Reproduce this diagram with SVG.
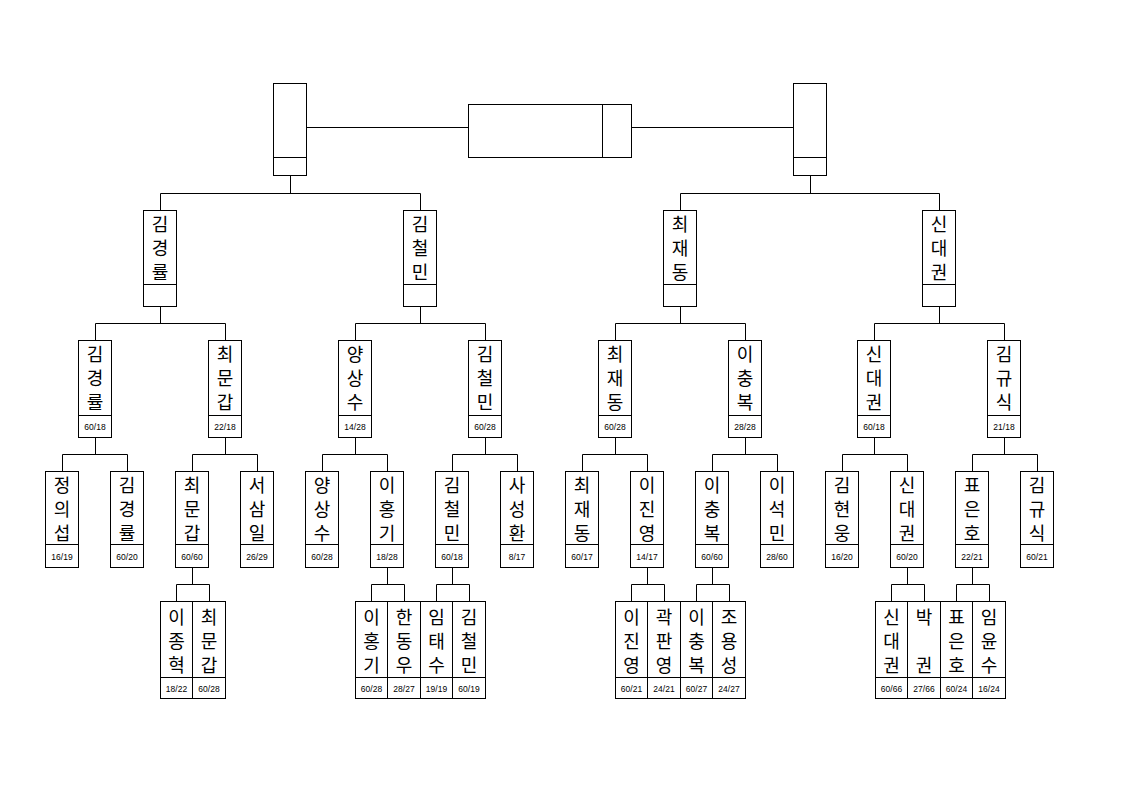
<svg xmlns="http://www.w3.org/2000/svg" width="1123" height="794" viewBox="0 0 1123 794">
<style>
.b{fill:#fff;stroke:#000;stroke-width:1}
.c{fill:none;stroke:#000;stroke-width:1}
.nm{font-family:"Noto Sans CJK KR","Noto Sans CJK JP",sans-serif;font-size:18px;text-anchor:middle;dominant-baseline:central;fill:#000}
.sc{font-family:"Liberation Sans",Arial,sans-serif;font-size:8.5px;text-anchor:middle;dominant-baseline:central;fill:#000}
</style>
<rect width="1123" height="794" fill="#fff"/>
<g id="connectors" class="c">
<path d="M306.5 127.5H468.5M631.5 127.5H793.5"/>
<path d="M290.5 175.5V193.5M160.5 193.5H420.5M160.5 193.5V210.5M420.5 193.5V210.5"/>
<path d="M810.5 175.5V193.5M680.5 193.5H939.5M680.5 193.5V210.5M939.5 193.5V210.5"/>
<path d="M160.5 306.5V323.5M95.5 323.5H225.5M95.5 323.5V340.5M225.5 323.5V340.5"/>
<path d="M420.5 306.5V323.5M355.5 323.5H485.5M355.5 323.5V340.5M485.5 323.5V340.5"/>
<path d="M680.5 306.5V323.5M615.5 323.5H745.5M615.5 323.5V340.5M745.5 323.5V340.5"/>
<path d="M939.5 306.5V323.5M874.5 323.5H1004.5M874.5 323.5V340.5M1004.5 323.5V340.5"/>
<path d="M95.5 437.5V454.5M62.5 454.5H127.5M62.5 454.5V471.5M127.5 454.5V471.5"/>
<path d="M225.5 437.5V454.5M192.5 454.5H257.5M192.5 454.5V471.5M257.5 454.5V471.5"/>
<path d="M355.5 437.5V454.5M322.5 454.5H387.5M322.5 454.5V471.5M387.5 454.5V471.5"/>
<path d="M485.5 437.5V454.5M452.5 454.5H517.5M452.5 454.5V471.5M517.5 454.5V471.5"/>
<path d="M615.5 437.5V454.5M582.5 454.5H647.5M582.5 454.5V471.5M647.5 454.5V471.5"/>
<path d="M745.5 437.5V454.5M712.5 454.5H777.5M712.5 454.5V471.5M777.5 454.5V471.5"/>
<path d="M874.5 437.5V454.5M842.5 454.5H907.5M842.5 454.5V471.5M907.5 454.5V471.5"/>
<path d="M1004.5 437.5V454.5M972.5 454.5H1037.5M972.5 454.5V471.5M1037.5 454.5V471.5"/>
<path d="M192.5 567.5V584.5M176.5 584.5H209.5M176.5 584.5V601.5M209.5 584.5V601.5"/>
<path d="M387.5 567.5V584.5M371.5 584.5H404.5M371.5 584.5V601.5M404.5 584.5V601.5"/>
<path d="M452.5 567.5V584.5M436.5 584.5H469.5M436.5 584.5V601.5M469.5 584.5V601.5"/>
<path d="M647.5 567.5V584.5M631.5 584.5H664.5M631.5 584.5V601.5M664.5 584.5V601.5"/>
<path d="M712.5 567.5V584.5M696.5 584.5H729.5M696.5 584.5V601.5M729.5 584.5V601.5"/>
<path d="M907.5 567.5V584.5M891.5 584.5H924.5M891.5 584.5V601.5M924.5 584.5V601.5"/>
<path d="M972.5 567.5V584.5M956.5 584.5H989.5M956.5 584.5V601.5M989.5 584.5V601.5"/>
</g>

<g id="top-left"><rect class="b" x="273.5" y="83.5" width="33" height="92"/><line class="c" x1="273.5" y1="157.5" x2="306.5" y2="157.5"/></g>
<g id="final"><rect class="b" x="468.5" y="104.5" width="163" height="53"/><line class="c" x1="602.5" y1="104.5" x2="602.5" y2="157.5"/></g>
<g id="top-right"><rect class="b" x="793.5" y="83.5" width="33" height="92"/><line class="c" x1="793.5" y1="157.5" x2="826.5" y2="157.5"/></g>

<g id="l1-1" transform="translate(143,210)"><rect class="b" x="0.5" y="0.5" width="33" height="96"/><line class="c" x1="0.5" y1="74.5" x2="33.5" y2="74.5"/><text class="nm"><tspan x="17" y="13">김</tspan><tspan x="17" y="37">경</tspan><tspan x="17" y="61">률</tspan></text></g>
<g id="l1-2" transform="translate(403,210)"><rect class="b" x="0.5" y="0.5" width="33" height="96"/><line class="c" x1="0.5" y1="74.5" x2="33.5" y2="74.5"/><text class="nm"><tspan x="17" y="13">김</tspan><tspan x="17" y="37">철</tspan><tspan x="17" y="61">민</tspan></text></g>
<g id="l1-3" transform="translate(663,210)"><rect class="b" x="0.5" y="0.5" width="33" height="96"/><line class="c" x1="0.5" y1="74.5" x2="33.5" y2="74.5"/><text class="nm"><tspan x="17" y="13">최</tspan><tspan x="17" y="37">재</tspan><tspan x="17" y="61">동</tspan></text></g>
<g id="l1-4" transform="translate(922,210)"><rect class="b" x="0.5" y="0.5" width="33" height="96"/><line class="c" x1="0.5" y1="74.5" x2="33.5" y2="74.5"/><text class="nm"><tspan x="17" y="13">신</tspan><tspan x="17" y="37">대</tspan><tspan x="17" y="61">권</tspan></text></g>

<g id="l2-1" transform="translate(78,340)"><rect class="b" x="0.5" y="0.5" width="33" height="97"/><line class="c" x1="0.5" y1="75.5" x2="33.5" y2="75.5"/><text class="nm"><tspan x="17" y="13">김</tspan><tspan x="17" y="37">경</tspan><tspan x="17" y="61">률</tspan></text><text class="sc" x="17" y="86.5">60/18</text></g>
<g id="l2-2" transform="translate(208,340)"><rect class="b" x="0.5" y="0.5" width="33" height="97"/><line class="c" x1="0.5" y1="75.5" x2="33.5" y2="75.5"/><text class="nm"><tspan x="17" y="13">최</tspan><tspan x="17" y="37">문</tspan><tspan x="17" y="61">갑</tspan></text><text class="sc" x="17" y="86.5">22/18</text></g>
<g id="l2-3" transform="translate(338,340)"><rect class="b" x="0.5" y="0.5" width="33" height="97"/><line class="c" x1="0.5" y1="75.5" x2="33.5" y2="75.5"/><text class="nm"><tspan x="17" y="13">양</tspan><tspan x="17" y="37">상</tspan><tspan x="17" y="61">수</tspan></text><text class="sc" x="17" y="86.5">14/28</text></g>
<g id="l2-4" transform="translate(468,340)"><rect class="b" x="0.5" y="0.5" width="33" height="97"/><line class="c" x1="0.5" y1="75.5" x2="33.5" y2="75.5"/><text class="nm"><tspan x="17" y="13">김</tspan><tspan x="17" y="37">철</tspan><tspan x="17" y="61">민</tspan></text><text class="sc" x="17" y="86.5">60/28</text></g>
<g id="l2-5" transform="translate(598,340)"><rect class="b" x="0.5" y="0.5" width="33" height="97"/><line class="c" x1="0.5" y1="75.5" x2="33.5" y2="75.5"/><text class="nm"><tspan x="17" y="13">최</tspan><tspan x="17" y="37">재</tspan><tspan x="17" y="61">동</tspan></text><text class="sc" x="17" y="86.5">60/28</text></g>
<g id="l2-6" transform="translate(728,340)"><rect class="b" x="0.5" y="0.5" width="33" height="97"/><line class="c" x1="0.5" y1="75.5" x2="33.5" y2="75.5"/><text class="nm"><tspan x="17" y="13">이</tspan><tspan x="17" y="37">충</tspan><tspan x="17" y="61">복</tspan></text><text class="sc" x="17" y="86.5">28/28</text></g>
<g id="l2-7" transform="translate(857,340)"><rect class="b" x="0.5" y="0.5" width="33" height="97"/><line class="c" x1="0.5" y1="75.5" x2="33.5" y2="75.5"/><text class="nm"><tspan x="17" y="13">신</tspan><tspan x="17" y="37">대</tspan><tspan x="17" y="61">권</tspan></text><text class="sc" x="17" y="86.5">60/18</text></g>
<g id="l2-8" transform="translate(987,340)"><rect class="b" x="0.5" y="0.5" width="33" height="97"/><line class="c" x1="0.5" y1="75.5" x2="33.5" y2="75.5"/><text class="nm"><tspan x="17" y="13">김</tspan><tspan x="17" y="37">규</tspan><tspan x="17" y="61">식</tspan></text><text class="sc" x="17" y="86.5">21/18</text></g>

<g id="l3-1" transform="translate(45,471)"><rect class="b" x="0.5" y="0.5" width="33" height="96"/><line class="c" x1="0.5" y1="73.5" x2="33.5" y2="73.5"/><text class="nm"><tspan x="17" y="12.5">정</tspan><tspan x="17" y="36.5">의</tspan><tspan x="17" y="60.5">섭</tspan></text><text class="sc" x="17" y="85.5">16/19</text></g>
<g id="l3-2" transform="translate(110,471)"><rect class="b" x="0.5" y="0.5" width="33" height="96"/><line class="c" x1="0.5" y1="73.5" x2="33.5" y2="73.5"/><text class="nm"><tspan x="17" y="12.5">김</tspan><tspan x="17" y="36.5">경</tspan><tspan x="17" y="60.5">률</tspan></text><text class="sc" x="17" y="85.5">60/20</text></g>
<g id="l3-3" transform="translate(175,471)"><rect class="b" x="0.5" y="0.5" width="33" height="96"/><line class="c" x1="0.5" y1="73.5" x2="33.5" y2="73.5"/><text class="nm"><tspan x="17" y="12.5">최</tspan><tspan x="17" y="36.5">문</tspan><tspan x="17" y="60.5">갑</tspan></text><text class="sc" x="17" y="85.5">60/60</text></g>
<g id="l3-4" transform="translate(240,471)"><rect class="b" x="0.5" y="0.5" width="33" height="96"/><line class="c" x1="0.5" y1="73.5" x2="33.5" y2="73.5"/><text class="nm"><tspan x="17" y="12.5">서</tspan><tspan x="17" y="36.5">삼</tspan><tspan x="17" y="60.5">일</tspan></text><text class="sc" x="17" y="85.5">26/29</text></g>
<g id="l3-5" transform="translate(305,471)"><rect class="b" x="0.5" y="0.5" width="33" height="96"/><line class="c" x1="0.5" y1="73.5" x2="33.5" y2="73.5"/><text class="nm"><tspan x="17" y="12.5">양</tspan><tspan x="17" y="36.5">상</tspan><tspan x="17" y="60.5">수</tspan></text><text class="sc" x="17" y="85.5">60/28</text></g>
<g id="l3-6" transform="translate(370,471)"><rect class="b" x="0.5" y="0.5" width="33" height="96"/><line class="c" x1="0.5" y1="73.5" x2="33.5" y2="73.5"/><text class="nm"><tspan x="17" y="12.5">이</tspan><tspan x="17" y="36.5">홍</tspan><tspan x="17" y="60.5">기</tspan></text><text class="sc" x="17" y="85.5">18/28</text></g>
<g id="l3-7" transform="translate(435,471)"><rect class="b" x="0.5" y="0.5" width="33" height="96"/><line class="c" x1="0.5" y1="73.5" x2="33.5" y2="73.5"/><text class="nm"><tspan x="17" y="12.5">김</tspan><tspan x="17" y="36.5">철</tspan><tspan x="17" y="60.5">민</tspan></text><text class="sc" x="17" y="85.5">60/18</text></g>
<g id="l3-8" transform="translate(500,471)"><rect class="b" x="0.5" y="0.5" width="33" height="96"/><line class="c" x1="0.5" y1="73.5" x2="33.5" y2="73.5"/><text class="nm"><tspan x="17" y="12.5">사</tspan><tspan x="17" y="36.5">성</tspan><tspan x="17" y="60.5">환</tspan></text><text class="sc" x="17" y="85.5">8/17</text></g>
<g id="l3-9" transform="translate(565,471)"><rect class="b" x="0.5" y="0.5" width="33" height="96"/><line class="c" x1="0.5" y1="73.5" x2="33.5" y2="73.5"/><text class="nm"><tspan x="17" y="12.5">최</tspan><tspan x="17" y="36.5">재</tspan><tspan x="17" y="60.5">동</tspan></text><text class="sc" x="17" y="85.5">60/17</text></g>
<g id="l3-10" transform="translate(630,471)"><rect class="b" x="0.5" y="0.5" width="33" height="96"/><line class="c" x1="0.5" y1="73.5" x2="33.5" y2="73.5"/><text class="nm"><tspan x="17" y="12.5">이</tspan><tspan x="17" y="36.5">진</tspan><tspan x="17" y="60.5">영</tspan></text><text class="sc" x="17" y="85.5">14/17</text></g>
<g id="l3-11" transform="translate(695,471)"><rect class="b" x="0.5" y="0.5" width="33" height="96"/><line class="c" x1="0.5" y1="73.5" x2="33.5" y2="73.5"/><text class="nm"><tspan x="17" y="12.5">이</tspan><tspan x="17" y="36.5">충</tspan><tspan x="17" y="60.5">복</tspan></text><text class="sc" x="17" y="85.5">60/60</text></g>
<g id="l3-12" transform="translate(760,471)"><rect class="b" x="0.5" y="0.5" width="33" height="96"/><line class="c" x1="0.5" y1="73.5" x2="33.5" y2="73.5"/><text class="nm"><tspan x="17" y="12.5">이</tspan><tspan x="17" y="36.5">석</tspan><tspan x="17" y="60.5">민</tspan></text><text class="sc" x="17" y="85.5">28/60</text></g>
<g id="l3-13" transform="translate(825,471)"><rect class="b" x="0.5" y="0.5" width="33" height="96"/><line class="c" x1="0.5" y1="73.5" x2="33.5" y2="73.5"/><text class="nm"><tspan x="17" y="12.5">김</tspan><tspan x="17" y="36.5">현</tspan><tspan x="17" y="60.5">웅</tspan></text><text class="sc" x="17" y="85.5">16/20</text></g>
<g id="l3-14" transform="translate(890,471)"><rect class="b" x="0.5" y="0.5" width="33" height="96"/><line class="c" x1="0.5" y1="73.5" x2="33.5" y2="73.5"/><text class="nm"><tspan x="17" y="12.5">신</tspan><tspan x="17" y="36.5">대</tspan><tspan x="17" y="60.5">권</tspan></text><text class="sc" x="17" y="85.5">60/20</text></g>
<g id="l3-15" transform="translate(955,471)"><rect class="b" x="0.5" y="0.5" width="33" height="96"/><line class="c" x1="0.5" y1="73.5" x2="33.5" y2="73.5"/><text class="nm"><tspan x="17" y="12.5">표</tspan><tspan x="17" y="36.5">은</tspan><tspan x="17" y="60.5">호</tspan></text><text class="sc" x="17" y="85.5">22/21</text></g>
<g id="l3-16" transform="translate(1020,471)"><rect class="b" x="0.5" y="0.5" width="33" height="96"/><line class="c" x1="0.5" y1="73.5" x2="33.5" y2="73.5"/><text class="nm"><tspan x="17" y="12.5">김</tspan><tspan x="17" y="36.5">규</tspan><tspan x="17" y="60.5">식</tspan></text><text class="sc" x="17" y="85.5">60/21</text></g>

<g id="l4-1" transform="translate(160,601)"><rect class="b" x="0.5" y="0.5" width="32" height="97"/><line class="c" x1="0.5" y1="76.5" x2="32.5" y2="76.5"/><text class="nm"><tspan x="16.5" y="15">이</tspan><tspan x="16.5" y="39">종</tspan><tspan x="16.5" y="63">혁</tspan></text><text class="sc" x="16.5" y="87.5">18/22</text></g>
<g id="l4-2" transform="translate(192,601)"><rect class="b" x="0.5" y="0.5" width="33" height="97"/><line class="c" x1="0.5" y1="76.5" x2="33.5" y2="76.5"/><text class="nm"><tspan x="17" y="15">최</tspan><tspan x="17" y="39">문</tspan><tspan x="17" y="63">갑</tspan></text><text class="sc" x="17" y="87.5">60/28</text></g>
<g id="l4-3" transform="translate(355,601)"><rect class="b" x="0.5" y="0.5" width="32" height="97"/><line class="c" x1="0.5" y1="76.5" x2="32.5" y2="76.5"/><text class="nm"><tspan x="16.5" y="15">이</tspan><tspan x="16.5" y="39">홍</tspan><tspan x="16.5" y="63">기</tspan></text><text class="sc" x="16.5" y="87.5">60/28</text></g>
<g id="l4-4" transform="translate(387,601)"><rect class="b" x="0.5" y="0.5" width="33" height="97"/><line class="c" x1="0.5" y1="76.5" x2="33.5" y2="76.5"/><text class="nm"><tspan x="17" y="15">한</tspan><tspan x="17" y="39">동</tspan><tspan x="17" y="63">우</tspan></text><text class="sc" x="17" y="87.5">28/27</text></g>
<g id="l4-5" transform="translate(420,601)"><rect class="b" x="0.5" y="0.5" width="32" height="97"/><line class="c" x1="0.5" y1="76.5" x2="32.5" y2="76.5"/><text class="nm"><tspan x="16.5" y="15">임</tspan><tspan x="16.5" y="39">태</tspan><tspan x="16.5" y="63">수</tspan></text><text class="sc" x="16.5" y="87.5">19/19</text></g>
<g id="l4-6" transform="translate(452,601)"><rect class="b" x="0.5" y="0.5" width="33" height="97"/><line class="c" x1="0.5" y1="76.5" x2="33.5" y2="76.5"/><text class="nm"><tspan x="17" y="15">김</tspan><tspan x="17" y="39">철</tspan><tspan x="17" y="63">민</tspan></text><text class="sc" x="17" y="87.5">60/19</text></g>
<g id="l4-7" transform="translate(615,601)"><rect class="b" x="0.5" y="0.5" width="32" height="97"/><line class="c" x1="0.5" y1="76.5" x2="32.5" y2="76.5"/><text class="nm"><tspan x="16.5" y="15">이</tspan><tspan x="16.5" y="39">진</tspan><tspan x="16.5" y="63">영</tspan></text><text class="sc" x="16.5" y="87.5">60/21</text></g>
<g id="l4-8" transform="translate(647,601)"><rect class="b" x="0.5" y="0.5" width="33" height="97"/><line class="c" x1="0.5" y1="76.5" x2="33.5" y2="76.5"/><text class="nm"><tspan x="17" y="15">곽</tspan><tspan x="17" y="39">판</tspan><tspan x="17" y="63">영</tspan></text><text class="sc" x="17" y="87.5">24/21</text></g>
<g id="l4-9" transform="translate(680,601)"><rect class="b" x="0.5" y="0.5" width="32" height="97"/><line class="c" x1="0.5" y1="76.5" x2="32.5" y2="76.5"/><text class="nm"><tspan x="16.5" y="15">이</tspan><tspan x="16.5" y="39">충</tspan><tspan x="16.5" y="63">복</tspan></text><text class="sc" x="16.5" y="87.5">60/27</text></g>
<g id="l4-10" transform="translate(712,601)"><rect class="b" x="0.5" y="0.5" width="33" height="97"/><line class="c" x1="0.5" y1="76.5" x2="33.5" y2="76.5"/><text class="nm"><tspan x="17" y="15">조</tspan><tspan x="17" y="39">용</tspan><tspan x="17" y="63">성</tspan></text><text class="sc" x="17" y="87.5">24/27</text></g>
<g id="l4-11" transform="translate(875,601)"><rect class="b" x="0.5" y="0.5" width="32" height="97"/><line class="c" x1="0.5" y1="76.5" x2="32.5" y2="76.5"/><text class="nm"><tspan x="16.5" y="15">신</tspan><tspan x="16.5" y="39">대</tspan><tspan x="16.5" y="63">권</tspan></text><text class="sc" x="16.5" y="87.5">60/66</text></g>
<g id="l4-12" transform="translate(907,601)"><rect class="b" x="0.5" y="0.5" width="33" height="97"/><line class="c" x1="0.5" y1="76.5" x2="33.5" y2="76.5"/><text class="nm"><tspan x="17" y="15">박</tspan><tspan x="17" y="63">권</tspan></text><text class="sc" x="17" y="87.5">27/66</text></g>
<g id="l4-13" transform="translate(940,601)"><rect class="b" x="0.5" y="0.5" width="32" height="97"/><line class="c" x1="0.5" y1="76.5" x2="32.5" y2="76.5"/><text class="nm"><tspan x="16.5" y="15">표</tspan><tspan x="16.5" y="39">은</tspan><tspan x="16.5" y="63">호</tspan></text><text class="sc" x="16.5" y="87.5">60/24</text></g>
<g id="l4-14" transform="translate(972,601)"><rect class="b" x="0.5" y="0.5" width="33" height="97"/><line class="c" x1="0.5" y1="76.5" x2="33.5" y2="76.5"/><text class="nm"><tspan x="17" y="15">임</tspan><tspan x="17" y="39">윤</tspan><tspan x="17" y="63">수</tspan></text><text class="sc" x="17" y="87.5">16/24</text></g>
</svg>
